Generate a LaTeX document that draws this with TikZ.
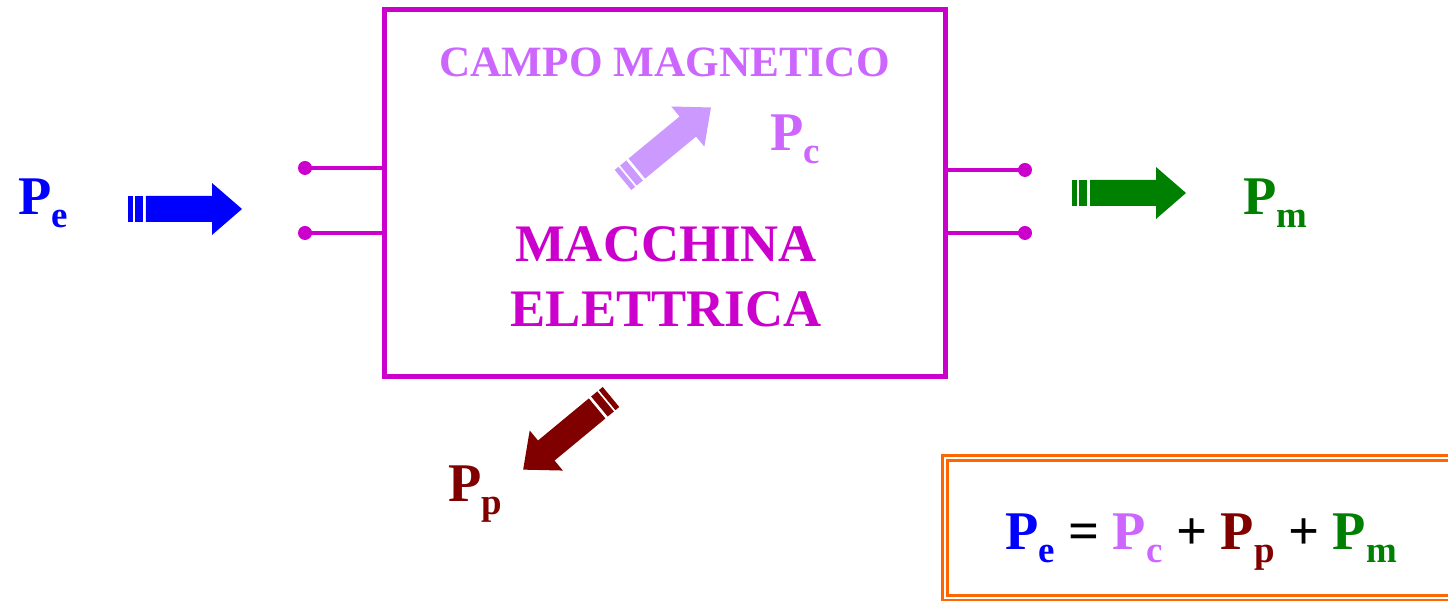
\documentclass[tikz,border=0pt]{standalone}
\usepackage{fontspec}
\setmainfont{Liberation Serif}
\usetikzlibrary{positioning,calc}
\definecolor{machineMagenta}{RGB}{204,0,204}
\definecolor{fieldLilac}{RGB}{204,102,255}
\definecolor{fieldArrow}{RGB}{204,153,255}
\definecolor{peBlue}{RGB}{0,0,255}
\definecolor{lossRed}{RGB}{128,0,0}
\definecolor{mechGreen}{RGB}{0,128,0}
\definecolor{sumOrange}{RGB}{255,102,0}
\newcommand{\powsym}[2]{\textcolor{#1}{P\raisebox{-3.5pt}{\fontsize{10.5}{12}\selectfont #2}}}
\tikzset{
  fatarrow/.pic={
    \fill (0,-0.13) rectangle (0.05,0.13);
    \fill (0.07,-0.13) rectangle (0.15,0.13);
    \fill (0.18,-0.13) -- (0.84,-0.13) -- (0.84,-0.26) -- (1.14,0)
      -- (0.84,0.26) -- (0.84,0.13) -- (0.18,0.13) -- cycle;
  }
}

\begin{document}
\begin{tikzpicture}[
  machinebox/.style={draw=machineMagenta,line width=0.05cm,minimum width=5.61cm,minimum height=3.67cm,inner sep=0},
  sumbox/.style={draw=sumOrange,line width=0.026cm,double=white,double distance=0.025cm,minimum width=5.15cm,minimum height=1.40cm,inner sep=0},
  pin/.style={machineMagenta,line width=0.04cm},
  lbl/.style={inner sep=0,anchor=base west,font=\bfseries\fontsize{15.5}{18}\selectfont},
  fieldtxt/.style={inner sep=0,anchor=base,text=fieldLilac,font=\bfseries\fontsize{12.3}{15}\selectfont},
  machtxt/.style={inner sep=0,align=center,text=machineMagenta,font=\bfseries\fontsize{15}{18.4}\selectfont}
]
\useasboundingbox (0,0) rectangle (14.48,6.01);
\clip (0,0) rectangle (14.48,6.01);

\node[machinebox] (machine) at (6.645,4.075) {};
\node[fieldtxt] (field) at (6.645,5.24) {CAMPO MAGNETICO};
\node[machtxt] (mname) at (6.66,3.24) {MACCHINA\\ELETTRICA};

\coordinate (pinLa) at (3.05,4.33);
\coordinate (pinLb) at (3.05,3.68);
\coordinate (pinRa) at (10.25,4.31);
\coordinate (pinRb) at (10.25,3.68);
\foreach \p/\side in {pinLa/west,pinLb/west,pinRa/east,pinRb/east}{
  \draw[pin] (\p) -- (\p -| machine.\side);
  \fill[machineMagenta] (\p) circle (0.07);
}

\pic[color=peBlue] at (1.28,3.92) {fatarrow};
\pic[color=mechGreen] at (10.72,4.08) {fatarrow};
\pic[color=fieldArrow,rotate=39.5] at (6.23,4.21) {fatarrow};
\pic[color=lossRed,rotate=219.6] at (6.11,2.04) {fatarrow};

\node[lbl] (pe) at (0.18,3.86) {\powsym{peBlue}{e}};
\node[lbl] (pc) at (7.70,4.50) {\powsym{fieldLilac}{c}};
\node[lbl] (pp) at (4.48,0.99) {\powsym{lossRed}{p}};
\node[lbl] (pm) at (12.43,3.86) {\powsym{mechGreen}{m}};

\node[sumbox] (balance) at (12.025,0.73) {};
\node[lbl,anchor=base] (eq) at (12.01,0.51)
  {\powsym{peBlue}{e} = \powsym{fieldLilac}{c} + \powsym{lossRed}{p} + \powsym{mechGreen}{m}};
\end{tikzpicture}
\end{document}
